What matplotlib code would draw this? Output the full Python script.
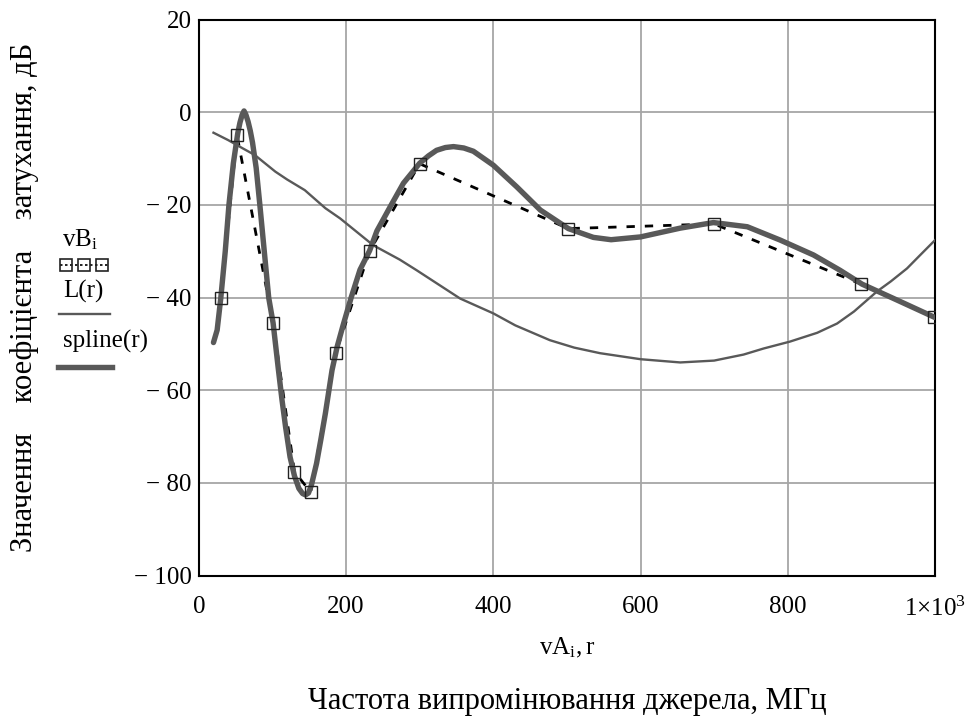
import matplotlib
matplotlib.use("Agg")
import matplotlib.pyplot as plt
from matplotlib.lines import Line2D

plt.rcParams['font.family'] = ['Liberation Serif', 'DejaVu Serif']
plt.rcParams['mathtext.fontset'] = 'custom'
plt.rcParams['mathtext.rm'] = 'Liberation Serif'
plt.rcParams['mathtext.it'] = 'Liberation Serif'

# measured points vA_i, vB_i
vA = [30, 52, 101, 130, 152, 186, 232, 300, 502, 700, 900, 998]
vB = [-40, -5, -45.5, -77.6, -82, -52, -30, -11.1, -25.1, -24.1, -37.1, -44.2]

# spline(r)
spline_r = [20, 25, 30, 36, 41, 47, 53, 56, 59, 61.5, 64, 67, 70, 73, 78, 83,
            89, 95, 101, 108, 113, 118, 124, 130, 136, 141, 145, 149, 153,
            160, 166, 172, 181, 188, 196, 207, 219, 232, 242, 260, 278, 300,
            312, 323, 335, 346, 360, 373, 400, 432, 464, 502, 536, 560, 600,
            654, 699, 745, 790, 835, 871, 901, 948, 1000]
spline_v = [-49.7, -47, -40, -30, -20, -11, -4.5, -2.2, -0.5, 0.3, -0.5,
            -2.0, -4.0, -6.5, -12, -20, -30, -40, -45.5, -55.3, -62, -68,
            -74.4, -78.5, -81.2, -82.3, -82.6, -82.2, -80.5, -75.8, -70.5,
            -65, -55.7, -50.6, -46, -40, -34, -29.9, -25.6, -20.4, -15.3,
            -11, -9.4, -8.2, -7.6, -7.4, -7.7, -8.4, -11.4, -16.1, -21.1,
            -25.1, -27, -27.5, -26.9, -25, -23.8, -24.7, -27.6, -30.8, -34.1,
            -37.1, -40.5, -44.3]

# L(r)
L_r = [20, 40, 60, 76, 104, 120, 144, 172, 192, 237, 273, 296, 355, 400, 430,
       477, 510, 545, 600, 654, 700, 740, 767, 803, 840, 867, 890, 921, 940,
       962, 980, 1000]
L_v = [-4.4, -6.0, -7.8, -9.2, -12.8, -14.5, -16.8, -20.7, -22.9, -28.7,
       -31.8, -34.1, -40.2, -43.4, -46, -49.2, -50.8, -52, -53.3, -54, -53.6,
       -52.3, -51, -49.5, -47.6, -45.6, -43, -38.7, -36.5, -33.7, -30.8,
       -27.6]

x_ticks = [0, 200, 400, 600, 800, 1000]
x_ticklabels = ['0', '200', '400', '600', '800', '1×10$^{3}$']
y_ticks = [20, 0, -20, -40, -60, -80, -100]
y_ticklabels = ['20', '0', '− 20', '− 40', '− 60', '− 80', '− 100']

W, H = 971, 716
fig = plt.figure(figsize=(W / 100, H / 100), dpi=100)
ax = fig.add_axes([198.75 / W, 1 - 575.5 / H, (935 - 198.75) / W, (575.5 - 19.7) / H])

gray = '#595959'
ax.plot(vA, vB, color='black', lw=2.0, ls=(0, (3.0, 3.6)), zorder=3)
ax.plot(L_r, L_v, color=gray, lw=1.7, zorder=3)
ax.plot(spline_r, spline_v, color=gray, lw=3.9, zorder=4,
        solid_capstyle='round', solid_joinstyle='round')
ax.plot(vA, vB, ls='none', marker='s', ms=8.5, mfc='none', mec='#222222',
        mew=1.0, zorder=5)

ax.set_xlim(0, 1000)
ax.set_ylim(-100, 20)
ax.set_xticks(x_ticks)
ax.set_xticklabels(x_ticklabels)
ax.set_yticks(y_ticks)
ax.set_yticklabels(y_ticklabels)
ax.tick_params(length=0, labelsize=18)
ax.tick_params(axis='x', pad=15)
ax.tick_params(axis='y', pad=5)
ax.grid(True, color='#a6a6a6', lw=1.3)
ax.set_axisbelow(True)
for s in ax.spines.values():
    s.set_color('black')
    s.set_linewidth(1.5)

ax.set_xlabel('$\\mathrm{vA_{i}, r}$', fontsize=18, va='center')
ax.xaxis.set_label_coords(0.5, (575.5 - 648) / (575.5 - 19.7))

fig.text(567 / W, 1 - 701 / H, 'Частота випромінювання джерела, МГц',
         fontsize=22, ha='center', va='center')
fig.text(25 / W, 1 - 297 / H,
         'Значення    коефіцієнта    затухання, дБ',
         fontsize=22, ha='center', va='center', rotation=90)

# legend drawn in the left margin
def px(x, y):
    return x / W, 1 - y / H

fig.text(*px(80, 240), '$\\mathrm{vB_{i}}$', fontsize=18, ha='center', va='center')
xs, ys = zip(px(60, 265), px(108, 265))
fig.add_artist(Line2D(xs, ys, color='black', lw=1.2, ls=(0, (1.5, 1.5))))
xs, ys = zip(px(66, 265), px(84, 265), px(102, 265))
fig.add_artist(Line2D(xs, ys, ls='none', marker='s', ms=9, mfc='none',
                      mec='#222222', mew=1.2))
fig.text(*px(83, 291), 'L(r)', fontsize=18, ha='center', va='center')
xs, ys = zip(px(59, 314), px(110, 314))
fig.add_artist(Line2D(xs, ys, color=gray, lw=1.7))
fig.text(*px(105, 341), 'spline(r)', fontsize=18, ha='center', va='center')
xs, ys = zip(px(58, 367), px(112, 367))
fig.add_artist(Line2D(xs, ys, color=gray, lw=3.9))

fig.savefig('out.png', dpi=100)
